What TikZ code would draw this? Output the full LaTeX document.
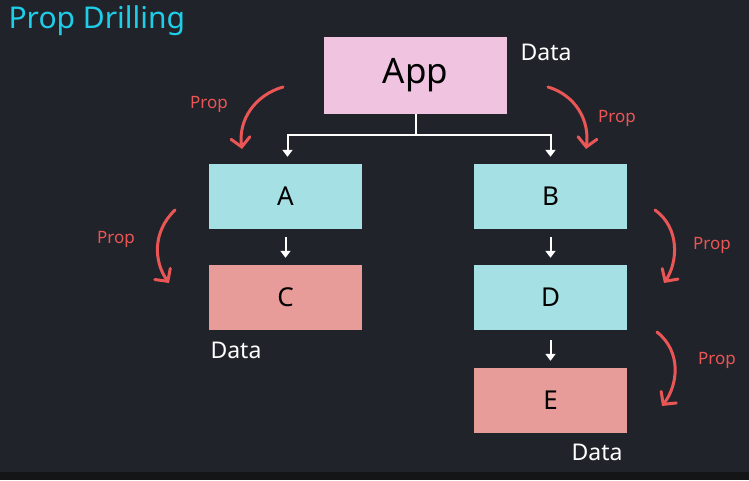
\documentclass[tikz,border=0pt]{standalone}
\usepackage{fontspec}
\setmainfont{Noto Sans}
\usetikzlibrary{arrows.meta}
\definecolor{bg}{HTML}{202329}
\definecolor{bgdark}{HTML}{141517}
\definecolor{apppink}{HTML}{F0C4E0}
\definecolor{boxcyan}{HTML}{A4E0E4}
\definecolor{boxsalmon}{HTML}{E89C9A}
\definecolor{propred}{HTML}{EA5656}
\definecolor{titlecyan}{HTML}{1ECDE8}
\tikzset{
  comp/.style={minimum width=153pt, minimum height=65pt, inner sep=0pt, text=black, font=\fontsize{26}{30}\selectfont},
  flow/.style={white, line width=2pt, -{Triangle[length=7pt,width=10pt]}},
  proparrow/.style={propred, line width=3pt, line cap=round, -{Straight Barb[length=9pt,width=19pt,line cap=round]}},
  proplabel/.style={text=propred, font=\fontsize{17}{20}\selectfont},
  datalabel/.style={text=white, font=\fontsize{23}{27}\selectfont}
}
\begin{document}
\begin{tikzpicture}[x=1pt,y=-1pt]
  % canvas
  \fill[bg] (0,0) rectangle (749,480);
  \fill[bgdark] (0,472) rectangle (749,480);
  \useasboundingbox (0,0) rectangle (749,480);

  % title
  \node[anchor=west, text=titlecyan, font=\fontsize{30}{35}\selectfont] (title) at (5,21) {Prop Drilling};

  % components
  \node[comp, fill=apppink, minimum width=183pt, minimum height=77pt, font=\fontsize{35}{40}\selectfont] (app) at (415.5,75.5) {App};
  \node[comp, fill=boxcyan] (a) at (285.5,196.5) {A};
  \node[comp, fill=boxcyan] (b) at (550.5,196.5) {B};
  \node[comp, fill=boxsalmon] (c) at (285.5,297.5) {C};
  \node[comp, fill=boxcyan] (d) at (550.5,297.5) {D};
  \node[comp, fill=boxsalmon] (e) at (550.5,400.5) {E};

  % data labels
  \node[datalabel] (dapp) at (546,52) {Data};
  \node[datalabel] (dc) at (236,350) {Data};
  \node[datalabel] (de) at (597,452) {Data};

  % tree connectors
  \coordinate (split) at (app.south |- 0,135);
  \draw[white, line width=2pt] (app.south) -- (split);
  \draw[flow] (split) -| ([xshift=2pt,yshift=7pt]a.north);
  \draw[flow] (split) -| ([yshift=7pt]b.north);
  \draw[flow] ([yshift=-8pt]a.south) -- ([yshift=7pt]c.north);
  \draw[flow] ([yshift=-8pt]b.south) -- ([yshift=7pt]d.north);
  \draw[flow] ([yshift=-10pt]d.south) -- ([yshift=7pt]e.north);

  % prop arrows
  \coordinate (p1s) at (283,87);   \coordinate (p1e) at (242,149);
  \coordinate (p2s) at (548,87);   \coordinate (p2e) at (586,149);
  \coordinate (p3s) at (175,210);  \coordinate (p3e) at (169,283);
  \coordinate (p4s) at (655,210);  \coordinate (p4e) at (664,283);
  \coordinate (p5s) at (657,332);  \coordinate (p5e) at (662,406);
  \draw[proparrow] (p1s) .. controls (255,95) and (238,120) .. (p1e);
  \draw[proparrow] (p2s) .. controls (575,95) and (590,120) .. (p2e);
  \draw[proparrow] (p3s) .. controls (152,232) and (154,262) .. (p3e);
  \draw[proparrow] (p4s) .. controls (680,228) and (678,262) .. (p4e);
  \draw[proparrow] (p5s) .. controls (682,352) and (678,385) .. (p5e);

  % prop labels
  \node[proplabel] (l1) at (209,104) {Prop};
  \node[proplabel] (l2) at (617,118) {Prop};
  \node[proplabel] (l3) at (116,239) {Prop};
  \node[proplabel] (l4) at (712,245) {Prop};
  \node[proplabel] (l5) at (717,360) {Prop};
\end{tikzpicture}
\end{document}
